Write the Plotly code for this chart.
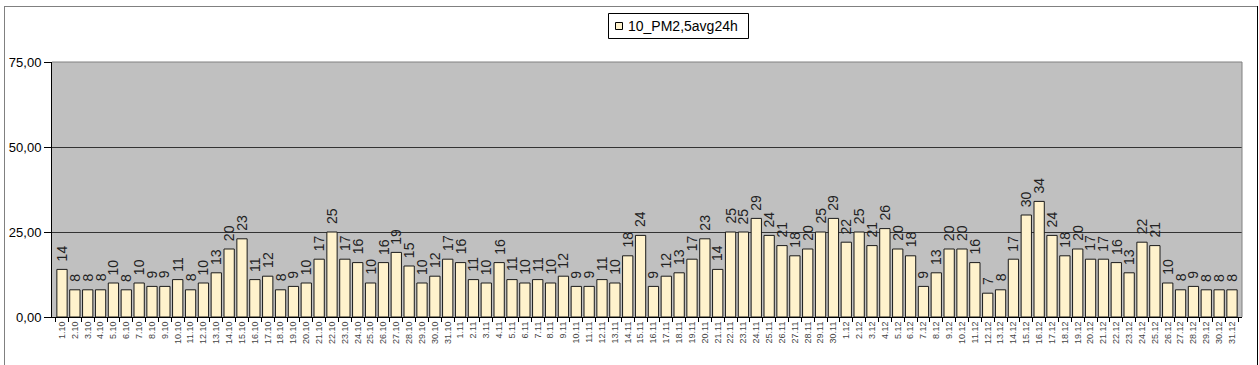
import plotly.graph_objects as go

oct_vals = [14, 8, 8, 8, 10, 8, 10, 9, 9, 11, 8, 10, 13, 20, 23, 11, 12, 8, 9, 10,
            17, 25, 17, 16, 10, 16, 19, 15, 10, 12, 17]
nov_vals = [16, 11, 10, 16, 11, 10, 11, 10, 12, 9, 9, 11, 10, 18, 24, 9, 12, 13, 17, 23,
            14, 25, 25, 29, 24, 21, 18, 20, 25, 29]
dec_vals = [22, 25, 21, 26, 20, 18, 9, 13, 20, 20, 16, 7, 8, 17, 30, 34, 24, 18, 20, 17,
            17, 16, 13, 22, 21, 10, 8, 9, 8, 8, 8]

categories = ([f"{d}.10" for d in range(1, 32)] +
              [f"{d}.11" for d in range(1, 31)] +
              [f"{d}.12" for d in range(1, 32)])
values = oct_vals + nov_vals + dec_vals
series_name = "10_PM2,5avg24h"
y_ticks = [0, 25, 50, 75]
y_tick_text = ["0,00", "25,00", "50,00", "75,00"]

BAR_FILL = "#FFF2CC"
FONT = "Arial, Liberation Sans"

fig = go.Figure()
fig.add_trace(go.Bar(
    x=categories, y=values, name=series_name,
    marker=dict(color=BAR_FILL, line=dict(color="#1a1a1a", width=1)),
    showlegend=False,
))

# value labels above bars (rotated), positioned through the data axes
# (category axis positions are given by category index)
annotations = [
    dict(x=i, y=v, xref="x", yref="y", text=str(v), showarrow=False,
         textangle=-90, yanchor="bottom", xanchor="center", yshift=6,
         font=dict(family=FONT, size=14, color="#222222"))
    for i, v in enumerate(values)
]

W, H = 1259, 365
L, R, T, B = 52, 17, 62, 48
pw = W - L - R
ph = H - T - B

def px_x(px):
    return (px - L) / pw

def px_y(py):
    return (H - B - py) / ph

# custom legend
annotations.append(dict(
    xref="paper", yref="paper", x=px_x(626), y=px_y(25.5),
    xanchor="left", yanchor="middle", showarrow=False,
    text=series_name, font=dict(family=FONT, size=14, color="#000000"),
))

shapes = [
    dict(type="line", xref="paper", yref="paper", x0=0, x1=1, y0=1, y1=1,
         line=dict(color="#808080", width=1)),
    dict(type="line", xref="paper", yref="paper", x0=1, x1=1, y0=0, y1=1,
         line=dict(color="#808080", width=1)),
    dict(type="line", xref="paper", yref="paper", x0=px_x(4.5), x1=px_x(4.5),
         y0=px_y(6), y1=px_y(370), line=dict(color="#808080", width=1)),
    dict(type="line", xref="paper", yref="paper", x0=px_x(4.5), x1=px_x(1257.5),
         y0=px_y(6.5), y1=px_y(6.5), line=dict(color="#808080", width=1)),
    dict(type="line", xref="paper", yref="paper", x0=px_x(1257.5), x1=px_x(1257.5),
         y0=px_y(6), y1=px_y(370), line=dict(color="#000000", width=1)),
    dict(type="rect", xref="paper", yref="paper", x0=px_x(608.5), x1=px_x(748.5),
         y0=px_y(13.5), y1=px_y(38.5), line=dict(color="#000000", width=1),
         fillcolor="white"),
    dict(type="rect", xref="paper", yref="paper", x0=px_x(615.5), x1=px_x(622.5),
         y0=px_y(22.5), y1=px_y(29.5), line=dict(color="#000000", width=1),
         fillcolor=BAR_FILL),
]

fig.update_layout(
    width=W, height=H,
    margin=dict(l=L, r=R, t=T, b=B, autoexpand=False),
    paper_bgcolor="white",
    plot_bgcolor="#C0C0C0",
    bargap=0.2,
    font=dict(family=FONT, color="#000000"),
    showlegend=False,
    xaxis=dict(
        type="category", tickangle=-90,
        tickmode="linear", dtick=1,
        tickfont=dict(size=9, color="#444444"),
        ticks="outside", ticklen=4, tickcolor="#000000",
        tickson="boundaries",
        showline=True, linecolor="#000000", linewidth=1,
        showgrid=False, zeroline=False, automargin=False,
    ),
    yaxis=dict(
        range=[0, 75], tickvals=y_ticks, ticktext=y_tick_text,
        tickfont=dict(size=13), ticks="outside", ticklen=7, tickcolor="#000000",
        showline=True, linecolor="#000000", linewidth=1,
        showgrid=True, gridcolor="#333333", gridwidth=1,
        zeroline=False, automargin=False,
    ),
    shapes=shapes,
    annotations=annotations,
)

fig.write_html("out.html", config={"displayModeBar": False},
               post_script="document.body.style.margin='0';document.body.style.overflow='hidden';")
